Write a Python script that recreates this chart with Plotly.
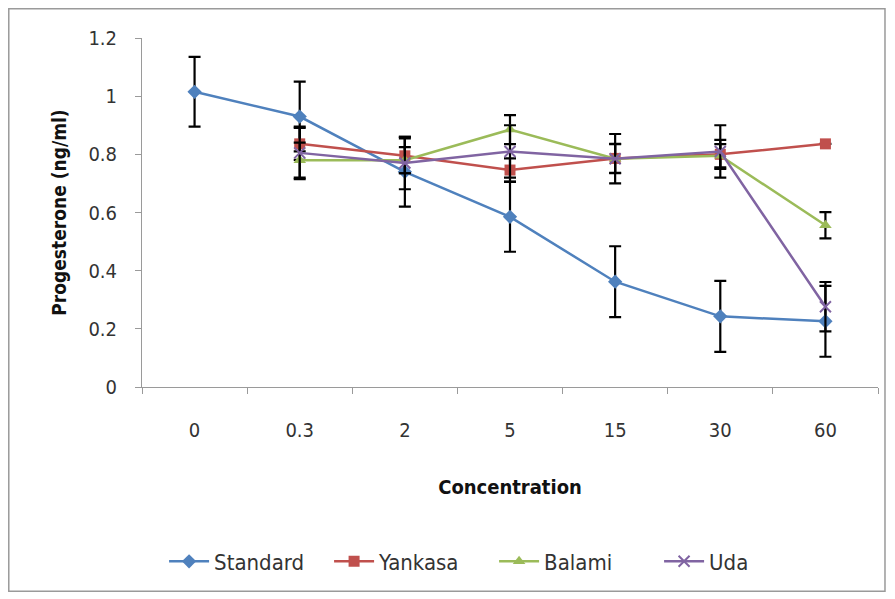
import plotly.graph_objects as go

categories = ["0", "0.3", "2", "5", "15", "30", "60"]

standard = [1.015, 0.93, 0.74, 0.585, 0.362, 0.243, 0.226]
standard_err = [0.12, 0.12, 0.12, 0.12, 0.122, 0.122, 0.122]

yankasa_x = ["0.3", "2", "5", "15", "30", "60"]
yankasa = [0.836, 0.795, 0.746, 0.786, 0.80, 0.836]
yankasa_err = [0.055, 0.06, 0.04, 0.05, 0.05, 0.0]

balami_x = ["0.3", "2", "5", "15", "30", "60"]
balami = [0.78, 0.78, 0.885, 0.785, 0.795, 0.556]
balami_err = [0.06, 0.045, 0.05, 0.05, 0.04, 0.045]

uda_x = ["0.3", "2", "5", "15", "30", "60"]
uda = [0.805, 0.77, 0.81, 0.785, 0.81, 0.276]
uda_err = [0.09, 0.09, 0.09, 0.085, 0.09, 0.085]

y_ticks = [0, 0.2, 0.4, 0.6, 0.8, 1, 1.2]
y_tick_text = ["0", "0.2", "0.4", "0.6", "0.8", "1", "1.2"]

FONT = "Liberation Sans Narrow, DejaVu Sans Condensed, Lato"

def err(vals):
    return dict(type="data", array=vals, visible=True, color="black",
                thickness=2.2, width=6)

fig = go.Figure()
fig.add_trace(go.Scatter(
    x=categories, y=standard, name="Standard", mode="lines+markers",
    line=dict(color="#4F81BD", width=2.5),
    marker=dict(symbol="diamond", size=11, color="#4F81BD"),
    error_y=err(standard_err)))
fig.add_trace(go.Scatter(
    x=yankasa_x, y=yankasa, name="Yankasa", mode="lines+markers",
    line=dict(color="#C0504D", width=2.5),
    marker=dict(symbol="square", size=11, color="#C0504D"),
    error_y=err(yankasa_err)))
fig.add_trace(go.Scatter(
    x=balami_x, y=balami, name="Balami", mode="lines+markers",
    line=dict(color="#9BBB59", width=2.5),
    marker=dict(symbol="triangle-up", size=11, color="#9BBB59"),
    error_y=err(balami_err)))
fig.add_trace(go.Scatter(
    x=uda_x, y=uda, name="Uda", mode="lines+markers",
    line=dict(color="#8064A2", width=2.5),
    marker=dict(symbol="x-thin", size=11, color="#8064A2",
                line=dict(color="#8064A2", width=2)),
    error_y=err(uda_err)))

# page body has an 8px margin, so the figure is offset by 8px
fig.update_layout(
    width=887, height=591,
    margin=dict(l=134, r=17, t=30, b=212),
    paper_bgcolor="white", plot_bgcolor="white",
    font=dict(family=FONT, size=20, color="#333333"),
    showlegend=True,
    legend=dict(orientation="h", x=0.03, xanchor="left", y=-0.5,
                yanchor="middle", font=dict(family=FONT, size=22, color="#333333"),
                itemwidth=40, tracegroupgap=0,
                entrywidth=110, entrywidthmode="pixels"),
    xaxis=dict(
        type="category", categoryorder="array", categoryarray=categories,
        range=[-0.5, 6.5],
        showline=True, linecolor="#9a9a9a", linewidth=1,
        ticks="outside", tickson="boundaries", ticklen=6, tickcolor="#9a9a9a",
        showgrid=False, zeroline=False, ticklabelstandoff=25,
        tickfont=dict(family=FONT, size=20, color="#333333"),
        title=dict(text="<b>Concentration</b>", standoff=38,
                   font=dict(family=FONT, size=20, color="#111111")),
    ),
    yaxis=dict(
        range=[0, 1.2], tickvals=y_ticks, ticktext=y_tick_text,
        showline=True, linecolor="#9a9a9a", linewidth=1,
        ticks="outside", ticklen=6, tickcolor="#9a9a9a",
        showgrid=False, zeroline=False, ticklabelstandoff=14,
        tickfont=dict(family=FONT, size=20, color="#333333"),
        title=dict(text="<b>Progesterone (ng/ml)</b>", standoff=16,
                   font=dict(family=FONT, size=19, color="#111111")),
    ),
    shapes=[dict(type="rect", xref="paper", yref="paper",
                 x0=-0.181, x1=1.0095, y0=-0.585, y1=1.084,
                 line=dict(color="#9a9a9a", width=1.5), fillcolor="rgba(0,0,0,0)",
                 layer="below")],
)

fig.write_html("out.html")
